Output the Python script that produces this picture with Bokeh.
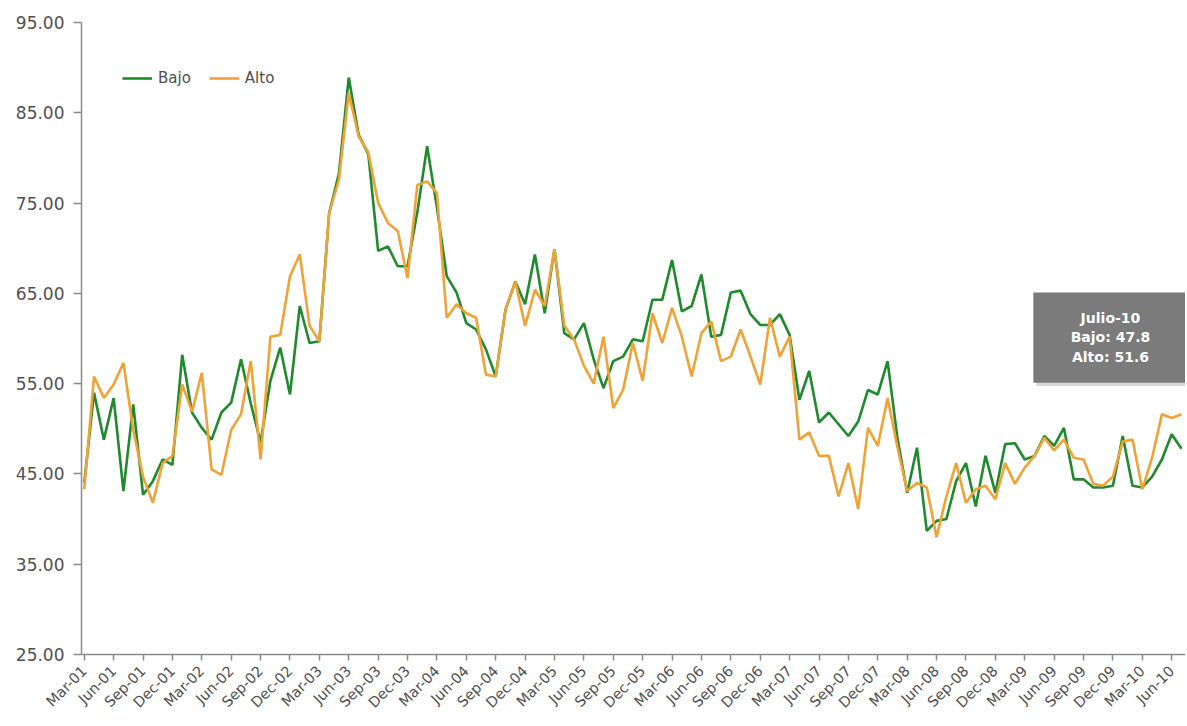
import numpy as np
from bokeh.plotting import figure
from bokeh.models import Range1d, FixedTicker, NumeralTickFormatter
from bokeh.embed import file_html
from bokeh.resources import INLINE
from bokeh.core.properties import value

# Monthly series, Mar-01 .. Jul-10
bajo = [44.0, 54.0, 48.8, 53.4, 43.1, 52.7, 42.7, 44.2, 46.6, 46.0,
        58.2, 51.8, 50.1, 48.8, 51.8, 52.9, 57.7, 52.8, 48.5, 55.3,
        59.0, 53.8, 63.6, 59.5, 59.7, 73.9, 78.3, 88.9, 82.6, 80.4,
        69.7, 70.2, 68.0, 68.0, 74.0, 81.3, 74.5, 66.9, 65.1, 61.7,
        61.0, 58.8, 55.8, 63.2, 66.3, 63.8, 69.3, 62.8, 69.9, 60.6,
        59.9, 61.7, 57.7, 54.5, 57.5, 58.0, 59.9, 59.7, 64.3, 64.3,
        68.7, 63.0, 63.6, 67.1, 60.2, 60.4, 65.1, 65.3, 62.7, 61.5,
        61.5, 62.7, 60.4, 53.2, 56.4, 50.7, 51.8, 50.5, 49.2, 50.8,
        54.3, 53.8, 57.5, 49.0, 42.9, 47.9, 38.7, 39.8, 40.0, 44.2,
        46.2, 41.4, 47.0, 42.9, 48.3, 48.4, 46.6, 47.0, 49.2, 48.1,
        50.1, 44.4, 44.4, 43.5, 43.5, 43.7, 49.2, 43.7, 43.5, 44.7,
        46.6, 49.4, 47.8]
alto = [43.3, 55.8, 53.4, 54.9, 57.3, 49.9, 44.7, 41.8, 46.2, 47.0,
        54.9, 51.9, 56.2, 45.5, 44.9, 49.9, 51.6, 57.5, 46.6, 60.2,
        60.4, 66.9, 69.3, 61.4, 59.7, 73.9, 77.6, 87.2, 82.4, 80.6,
        75.0, 72.8, 71.9, 66.7, 77.0, 77.4, 76.1, 62.3, 63.8, 62.8,
        62.3, 56.0, 55.8, 63.2, 66.3, 61.4, 65.4, 63.6, 69.9, 61.4,
        59.9, 57.0, 55.0, 60.2, 52.3, 54.3, 59.5, 55.3, 62.8, 59.5,
        63.4, 60.2, 55.8, 60.6, 61.9, 57.5, 58.0, 61.0, 58.0, 54.9,
        62.3, 58.0, 60.2, 48.8, 49.6, 47.0, 47.0, 42.5, 46.2, 41.1,
        50.1, 48.1, 53.4, 48.0, 43.1, 44.0, 43.5, 38.0, 42.5, 46.2,
        41.8, 43.3, 43.7, 42.2, 46.2, 43.9, 45.7, 47.0, 49.0, 47.6,
        48.8, 46.8, 46.6, 43.9, 43.7, 44.7, 48.6, 48.8, 43.3, 46.8,
        51.6, 51.2, 51.6]

tick_labels = ["Mar-01", "Jun-01", "Sep-01", "Dec-01", "Mar-02", "Jun-02", "Sep-02", "Dec-02",
               "Mar-03", "Jun-03", "Sep-03", "Dec-03", "Mar-04", "Jun-04", "Sep-04", "Dec-04",
               "Mar-05", "Jun-05", "Sep-05", "Dec-05", "Mar-06", "Jun-06", "Sep-06", "Dec-06",
               "Mar-07", "Jun-07", "Sep-07", "Dec-07", "Mar-08", "Jun-08", "Sep-08", "Dec-08",
               "Mar-09", "Jun-09", "Sep-09", "Dec-09", "Mar-10", "Jun-10"]
y_ticks = [25, 35, 45, 55, 65, 75, 85, 95]
last_label = "Julio-10"

GREEN = "#1f8a2c"
ORANGE = "#f0a236"
FONT = "DejaVu Sans"

n = len(bajo)
idx = list(range(n))
tick_pos = list(range(0, 3 * len(tick_labels), 3))

p = figure(width=1185, height=722, output_backend="svg", toolbar_location=None,
           x_range=Range1d(-0.28, 112.41), y_range=Range1d(25, 95),
           min_border_left=81, min_border_right=0, min_border_top=22, min_border_bottom=68)
p.xgrid.visible = False
p.ygrid.visible = False
p.outline_line_color = None
p.background_fill_color = "white"

p.yaxis.ticker = FixedTicker(ticks=y_ticks)
p.yaxis.formatter = NumeralTickFormatter(format="0.00")
p.xaxis.ticker = FixedTicker(ticks=tick_pos)
p.xaxis.major_label_overrides = {t: lab for t, lab in zip(tick_pos, tick_labels)}
p.xaxis.major_label_orientation = np.pi / 4

for ax in (p.xaxis, p.yaxis):
    ax.axis_line_color = "#8a8a8a"
    ax.axis_line_width = 1.5
    ax.major_tick_line_color = "#8a8a8a"
    ax.major_tick_line_width = 1.5
    ax.major_tick_in = 0
    ax.minor_tick_line_color = None
    ax.major_label_text_font = FONT
    ax.major_label_text_color = "#505050"
p.yaxis.major_tick_out = 8
p.yaxis.major_label_standoff = 9
p.yaxis.major_label_text_font_size = "17px"
p.xaxis.major_tick_out = 6
p.xaxis.major_label_standoff = 8
p.xaxis.major_label_text_font_size = "14.5px"

p.line(idx, bajo, color=GREEN, line_width=2.6, legend_label="Bajo")
p.line(idx, alto, color=ORANGE, line_width=2.6, legend_label="Alto")

p.legend.orientation = "horizontal"
p.legend.location = (41, 567)
p.legend.border_line_alpha = 0
p.legend.background_fill_alpha = 0
p.legend.label_text_font = FONT
p.legend.label_text_font_size = "15px"
p.legend.label_text_color = "#505050"
p.legend.glyph_width = 30
p.legend.glyph_height = 16
p.legend.label_standoff = 6
p.legend.spacing = 18
p.legend.padding = 0
p.legend.margin = 0

# tooltip-like box for the last month
tip_left, tip_right, tip_bottom, tip_top = 96.88, 113.5, 55.1, 65.1
p.quad(left=[tip_left + 0.3], right=[tip_right + 0.3], bottom=[tip_bottom - 0.35], top=[tip_top - 0.35],
       fill_color="#c8c8c8", fill_alpha=0.7, line_color=None)
p.quad(left=[tip_left], right=[tip_right], bottom=[tip_bottom], top=[tip_top],
       fill_color="#7b7b7b", line_color=None)
tip_x = 104.75
p.text(x=[tip_x] * 3, y=[62.3, 60.2, 58.0],
       text=[last_label, f"Bajo: {bajo[-1]}", f"Alto: {alto[-1]}"],
       text_font=value(FONT), text_font_style="bold", text_font_size="14px",
       text_color="white", text_align="center", text_baseline="middle")

open("out.html", "w").write(file_html(p, INLINE))
